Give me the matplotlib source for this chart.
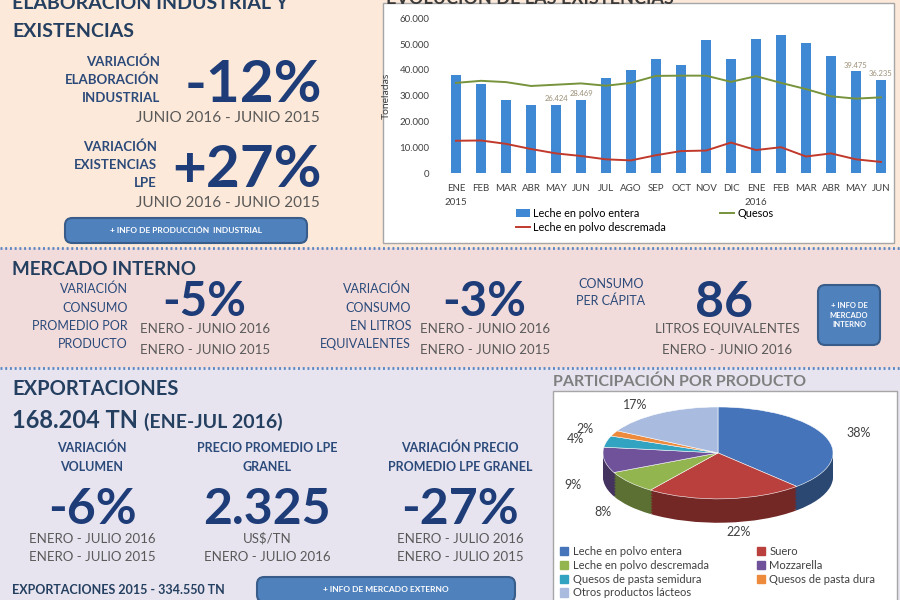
import numpy as np
import matplotlib.pyplot as plt
import matplotlib.colors as mcolors
from matplotlib import ticker
from matplotlib.patches import Rectangle, FancyBboxPatch, Patch
from matplotlib.lines import Line2D

plt.rcParams['font.family'] = ['Lato', 'DejaVu Sans']

# existencias (toneladas), ene 2015 - jun 2016
meses = ['ENE\n2015', 'FEB', 'MAR', 'ABR', 'MAY', 'JUN', 'JUL', 'AGO', 'SEP', 'OCT', 'NOV', 'DIC',
         'ENE\n2016', 'FEB', 'MAR', 'ABR', 'MAY', 'JUN']
leche_entera = [38000, 34500, 28400, 26300, 26424, 28469, 36900, 40000, 44200, 42100, 51500, 44300,
                51800, 53500, 50600, 45400, 39475, 36235]
quesos = [35000, 35800, 35300, 33800, 34300, 34800, 33900, 35000, 37700, 37800, 37800, 35400,
          37600, 35000, 32600, 29800, 28900, 29400]
leche_descremada = [12600, 12700, 11400, 9400, 7700, 6700, 5400, 5000, 7000, 8600, 8800, 11900,
                    9000, 10100, 6500, 7700, 5400, 4400]
barras_rotuladas = [4, 5, 16, 17]

# participacion por producto (exportaciones)
productos = ['Leche en polvo entera', 'Suero', 'Leche en polvo descremada', 'Mozzarella',
             'Quesos de pasta semidura', 'Quesos de pasta dura', 'Otros productos lácteos']
participacion = [38, 22, 8, 9, 4, 2, 17]
colores_pie = ['#4574BA', '#B9403D', '#93B550', '#6F529A', '#33A3C2', '#EE8A3C', '#A9BCE0']

W, H = 900, 600
NAVY = '#243F60'
AZUL = '#2B4A7A'
NUM = '#1D3C78'
GRIS = '#595959'

fig = plt.figure(figsize=(9, 6), dpi=100)


def fx(x):
    return x / W


def fy(y):
    return 1 - y / H


def texto(x, y, s, **kw):
    kw.setdefault('va', 'baseline')
    return fig.text(fx(x), fy(y), s, **kw)


def rect(x0, y0, x1, y1, **kw):
    fig.add_artist(Rectangle((fx(x0), fy(y1)), (x1 - x0) / W, (y1 - y0) / H,
                             transform=fig.transFigure, **kw))


def boton(x0, y0, x1, y1, s, size):
    fig.add_artist(FancyBboxPatch((fx(x0), fy(y1)), (x1 - x0) / W, (y1 - y0) / H,
                                  boxstyle='round,pad=0,rounding_size=0.008', mutation_aspect=1.5,
                                  transform=fig.transFigure, fc='#4F81BD', ec='#385D8A', lw=1.5, zorder=1))
    fig.text(fx((x0 + x1) / 2), fy((y0 + y1) / 2), s, ha='center', va='center', color='white',
             fontsize=size, fontweight='bold', linespacing=1.4)


def separador(y):
    fig.add_artist(Line2D([0, 1], [fy(y), fy(y)], transform=fig.transFigure, color='#5B86C0',
                          lw=2, ls=(0, (0.7, 1.0)), zorder=0))


# fondos
rect(0, 0, 900, 248, fc='#FDE9D9', ec='none', zorder=-2)
rect(0, 248, 900, 368, fc='#F2DCDB', ec='none', zorder=-2)
rect(0, 368, 900, 600, fc='#E7E4EF', ec='none', zorder=-2)
separador(248)
separador(368)
rect(383, 3, 894, 243, fc='white', ec='#A6A6A6', lw=1, zorder=-1)
rect(553, 391, 897, 603, fc='white', ec='#A6A6A6', lw=1, zorder=-1)

# ELABORACION INDUSTRIAL
texto(12, 9, 'ELABORACIÓN INDUSTRIAL Y', fontsize=14, fontweight='bold', color=NAVY)
texto(12, 37, 'EXISTENCIAS', fontsize=14, fontweight='bold', color=NAVY)
for i, s in enumerate(['VARIACIÓN', 'ELABORACIÓN', 'INDUSTRIAL']):
    texto(160, 66 + 18 * i, s, ha='right', fontsize=9.5, fontweight='bold', color=AZUL)
texto(322, 102, '-12%', ha='right', fontsize=42, fontweight='bold', color=NUM)
texto(320, 122, 'JUNIO 2016 - JUNIO 2015', ha='right', fontsize=11, color=GRIS)
for i, s in enumerate(['VARIACIÓN', 'EXISTENCIAS', 'LPE']):
    texto(157, 151 + 18 * i, s, ha='right', fontsize=9.5, fontweight='bold', color=AZUL)
texto(322, 187, '+27%', ha='right', fontsize=42, fontweight='bold', color=NUM)
texto(320, 207, 'JUNIO 2016 - JUNIO 2015', ha='right', fontsize=11, color=GRIS)
boton(65, 218, 307, 243, '+ INFO DE PRODUCCIÓN  INDUSTRIAL', 6)

# grafico de existencias
texto(386, 4, 'EVOLUCIÓN DE LAS EXISTENCIAS', fontsize=13, fontweight='bold', color='#3A3A3A')
ax = fig.add_axes([fx(443.5), fy(173.3), 450 / W, 155 / H])
ax.patch.set_visible(False)
x = np.arange(len(meses))
barras = ax.bar(x, leche_entera, width=0.42, color='#3F88D4', label='Leche en polvo entera', zorder=2)
l_q, = ax.plot(x, quesos, color='#77933C', lw=1.4, label='Quesos', zorder=3)
l_d, = ax.plot(x, leche_descremada, color='#C0392B', lw=1.4, label='Leche en polvo descremada', zorder=3)
for i in barras_rotuladas:
    ax.annotate(f'{leche_entera[i]:,}'.replace(',', '.'), (x[i], leche_entera[i]), xytext=(0, 2),
                textcoords='offset points', ha='center', va='bottom', fontsize=5.5, color='#9C9077')
ax.set_xlim(-0.5, len(meses) - 0.5)
ax.set_ylim(0, 60000)
ax.set_yticks(range(0, 60001, 10000))
ax.yaxis.set_major_formatter(ticker.FuncFormatter(lambda v, p: f'{int(v):,}'.replace(',', '.')))
ax.set_xticks(x, meses)
ax.tick_params(length=0, labelsize=7, labelcolor='#404040')
ax.tick_params(axis='y', pad=10)
ax.tick_params(axis='x', pad=8)
for lab in ax.get_xticklabels():
    lab.set_verticalalignment('top')
    lab.set_linespacing(1.6)
for sp in ax.spines.values():
    sp.set_visible(False)
ax.set_ylabel('Toneladas', fontsize=7.5, color='#404040', labelpad=6)
ax.legend(handles=[barras, l_d, l_q], ncol=2, loc='upper left', bbox_to_anchor=(fx(516), fy(208)),
          bbox_transform=fig.transFigure, frameon=False, fontsize=7.8, handlelength=1.3,
          handletextpad=0.3, columnspacing=5.0, labelspacing=0.25, borderpad=0, borderaxespad=0)

# MERCADO INTERNO
texto(12, 275, 'MERCADO INTERNO', fontsize=13.5, fontweight='bold', color=NAVY)
for i, s in enumerate(['VARIACIÓN', 'CONSUMO', 'PROMEDIO POR', 'PRODUCTO']):
    texto(128, 293 + 18.5 * i, s, ha='right', fontsize=9, color=AZUL)
texto(162, 316, '-5%', fontsize=34, fontweight='bold', color=NUM)
texto(140, 333, 'ENERO - JUNIO 2016', fontsize=9.5, color=GRIS)
texto(140, 354, 'ENERO - JUNIO 2015', fontsize=9.5, color=GRIS)
for i, s in enumerate(['VARIACIÓN', 'CONSUMO', 'EN LITROS', 'EQUIVALENTES']):
    texto(411, 293 + 18.5 * i, s, ha='right', fontsize=9, color=AZUL)
texto(442, 316, '-3%', fontsize=34, fontweight='bold', color=NUM)
texto(420, 333, 'ENERO - JUNIO 2016', fontsize=9.5, color=GRIS)
texto(420, 354, 'ENERO - JUNIO 2015', fontsize=9.5, color=GRIS)
texto(611, 288, 'CONSUMO', ha='center', fontsize=9, color=AZUL)
texto(611, 305, 'PER CÁPITA', ha='center', fontsize=9, color=AZUL)
texto(724, 317, '86', ha='center', fontsize=36, fontweight='bold', color=NUM)
texto(727, 333, 'LITROS EQUIVALENTES', ha='center', fontsize=9.5, color=GRIS)
texto(727, 354, 'ENERO - JUNIO 2016', ha='center', fontsize=9.5, color=GRIS)
boton(818, 285, 880, 345, '+ INFO DE\nMERCADO\nINTERNO', 5.5)

# EXPORTACIONES
texto(12, 395, 'EXPORTACIONES', fontsize=14.5, fontweight='bold', color=NAVY)
texto(12, 428, '168.204 TN', fontsize=17, fontweight='bold', color=NAVY)
texto(144, 428, '(ENE-JUL 2016)', fontsize=14, fontweight='bold', color=NAVY)
columnas = [
    (92, ['VARIACIÓN', 'VOLUMEN'], '-6%', ['ENERO - JULIO 2016', 'ENERO - JULIO 2015']),
    (267, ['PRECIO PROMEDIO LPE', 'GRANEL'], '2.325', ['US$/TN', 'ENERO - JULIO 2016']),
    (460, ['VARIACIÓN PRECIO', 'PROMEDIO LPE GRANEL'], '-27%', ['ENERO - JULIO 2016', 'ENERO - JULIO 2015']),
]
for cx, titulo, valor, pie_txt in columnas:
    texto(cx, 452, titulo[0], ha='center', fontsize=9, fontweight='bold', color=AZUL)
    texto(cx, 471, titulo[1], ha='center', fontsize=9, fontweight='bold', color=AZUL)
    texto(cx, 524, valor, ha='center', fontsize=36, fontweight='bold', color=NUM)
    texto(cx, 543, pie_txt[0], ha='center', fontsize=9.5, color=GRIS)
    texto(cx, 561, pie_txt[1], ha='center', fontsize=9.5, color=GRIS)
texto(12, 594, 'EXPORTACIONES 2015 - 334.550 TN', fontsize=9, fontweight='bold', color=NAVY)
boton(257, 577, 515, 602, '+ INFO DE MERCADO EXTERNO', 6)

# participacion por producto
texto(553, 386, 'PARTICIPACIÓN POR PRODUCTO', fontsize=11.5, fontweight='bold', color='#7F7F7F')
axp = fig.add_axes([fx(545.5), fy(554), 345 / W, 170 / H])
axp.patch.set_visible(False)
prof = 0.52
oscuros = [tuple(np.array(mcolors.to_rgb(c)) * 0.62) for c in colores_pie]
for k in np.linspace(prof, 0.02, 16):
    axp.pie(participacion, colors=oscuros, startangle=90, counterclock=False, center=(0, -k),
            wedgeprops=dict(lw=0))
wedges, etiquetas = axp.pie(participacion, colors=colores_pie, startangle=90, counterclock=False,
                            labels=[f'{p}%' for p in participacion], labeldistance=1.2,
                            textprops=dict(fontsize=9, color='#404040'),
                            wedgeprops=dict(ec='white', lw=0.4))
for t in etiquetas:
    px_, py_ = t.get_position()
    if py_ < 0:
        t.set_position((px_, py_ - prof))
axp.set_aspect('auto')
axp.set_xlim(-1.5, 1.5)
axp.set_ylim(-2.2, 1.5)
orden = [0, 2, 4, 6, 1, 3, 5]
fig.legend([Patch(color=colores_pie[i]) for i in orden], [productos[i] for i in orden], ncol=2,
           loc='upper left', bbox_to_anchor=(fx(560), fy(546)), frameon=False, fontsize=8,
           handlelength=0.75, handleheight=0.75, handletextpad=0.4, columnspacing=4.3,
           labelspacing=0.25, borderpad=0, borderaxespad=0, labelcolor='#404040')

fig.savefig('out.png', dpi=100)
